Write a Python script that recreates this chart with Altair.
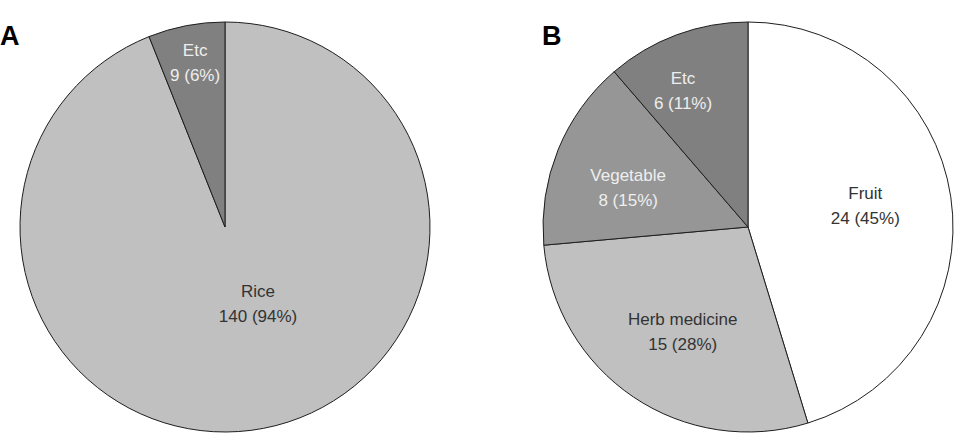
import altair as alt
import pandas as pd

# Panel A: main food category
a_categories = ["Rice", "Etc"]
a_counts = [140, 9]
a_percents = [94, 6]

# Panel B: other food categories
b_categories = ["Fruit", "Herb medicine", "Vegetable", "Etc"]
b_counts = [24, 15, 8, 6]
b_percents = [45, 28, 15, 11]

# Slice fills and label colours per panel
a_fills = ["#c0c0c0", "#808080"]
a_text = ["#333333", "#eeeeee"]
b_fills = ["#ffffff", "#c0c0c0", "#969696", "#808080"]
b_text = ["#333333", "#333333", "#eeeeee", "#eeeeee"]

# Label placement: distance from the pie centre (px) and a small
# angular shift (degrees) away from the slice's middle angle
a_label_r = [84, 166]
a_label_shift = [-12.3, 0.5]
b_label_r = [119, 124, 126, 150]
b_label_shift = [-1.2, -2.2, -4.1, -5.3]

R = 205
SIZE = 2 * R
LINE_H = 25


def frame(cats, counts, pcts, fills, tcols, lrs, shifts):
    return pd.DataFrame({
        "category": cats,
        "count": counts,
        "idx": list(range(len(cats))),
        "label": [f"{c}\n{n} ({p}%)" for c, n, p in zip(cats, counts, pcts)],
        "fill": fills,
        "tc": tcols,
        "lr": lrs,
        "shift": shifts,
    })


def pie(df, letter, letter_x):
    arcs = alt.Chart(df).mark_arc(outerRadius=R, stroke="#1e1e1e", strokeWidth=1).encode(
        theta=alt.Theta("count:Q", stack=True),
        order=alt.Order("idx:Q", sort="ascending"),
        color=alt.Color("fill:N", scale=None, legend=None),
    )
    # label angle = middle of each slice, clockwise from 12 o'clock
    labels = alt.Chart(df).transform_joinaggregate(
        total="sum(count)"
    ).transform_window(
        cum="sum(count)", sort=[alt.SortField("idx")], frame=[None, 0]
    ).transform_calculate(
        mid="2 * PI * (datum.cum - datum.count / 2) / datum.total + datum.shift * PI / 180"
    ).mark_text(
        lineBreak="\n", fontSize=17, font="Liberation Sans", lineHeight=LINE_H,
        align="center", baseline="middle", dy=-LINE_H / 2,
    ).encode(
        theta=alt.Theta("mid:Q", scale=None),
        radius=alt.Radius("lr:Q", scale=None),
        text="label:N",
        color=alt.Color("tc:N", scale=None, legend=None),
    )
    tag = alt.Chart(pd.DataFrame({"t": [letter]})).mark_text(
        font="Liberation Sans", fontSize=27, fontWeight="bold",
        align="left", baseline="alphabetic", color="#000000",
    ).encode(x=alt.value(letter_x), y=alt.value(23), text="t:N")
    return alt.layer(arcs, labels, tag).properties(width=SIZE, height=SIZE)


df_a = frame(a_categories, a_counts, a_percents, a_fills, a_text, a_label_r, a_label_shift)
df_b = frame(b_categories, b_counts, b_percents, b_fills, b_text, b_label_r, b_label_shift)

chart = alt.hconcat(
    pie(df_a, "A", -20),
    pie(df_b, "B", -1),
    spacing=113,
    bounds="flush",
).properties(
    padding={"left": 0, "top": 20, "right": 0, "bottom": 0},
    background="#ffffff",
).configure_view(stroke=None)

chart.save("out.html", embed_options={"renderer": "svg", "actions": False})
